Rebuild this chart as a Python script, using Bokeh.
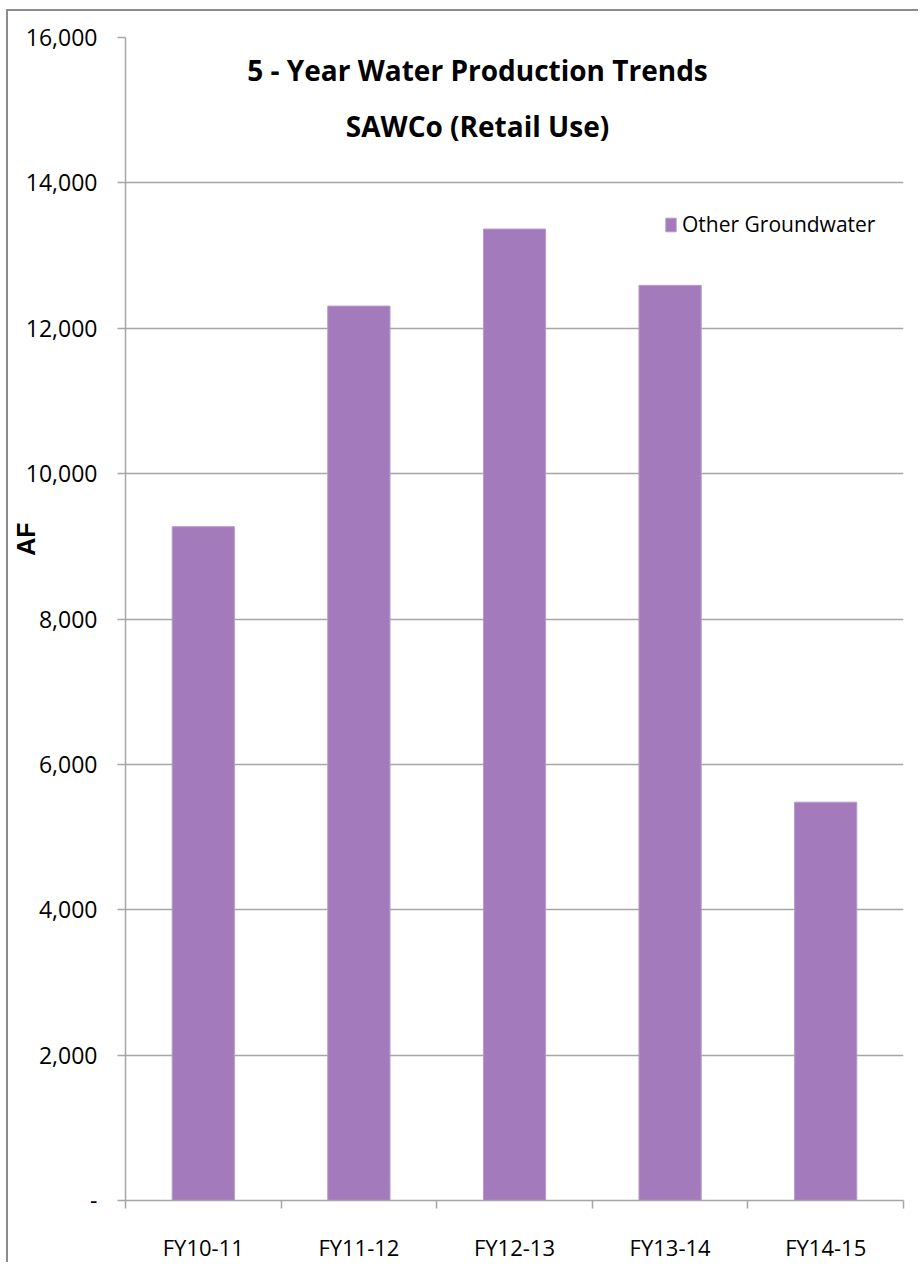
from bokeh.plotting import figure
from bokeh.models import (FixedTicker, NumeralTickFormatter, Legend, LegendItem,
                          Label, ColumnDataSource, Range1d)
from bokeh.embed import file_html
from bokeh.resources import INLINE

categories = ["FY10-11", "FY11-12", "FY12-13", "FY13-14", "FY14-15"]
other_groundwater = [9270, 12305, 13365, 12590, 5480]
y_ticks = [0, 2000, 4000, 6000, 8000, 10000, 12000, 14000, 16000]
title_lines = ["5 - Year Water Production Trends", "SAWCo (Retail Use)"]
series_name = "Other Groundwater"
y_label = "AF"

FONT = "Open Sans"
GRID = "#a6a6a6"
BAR = "#a37abb"

xs = [i + 0.5 for i in range(len(categories))]
src = ColumnDataSource(dict(x=xs, top=other_groundwater, cat=categories))

p = figure(width=912, height=1253, output_backend="svg", toolbar_location=None,
           x_range=Range1d(0, len(categories)), y_range=Range1d(0, 16000),
           min_border_left=117, min_border_right=17, min_border_top=26,
           min_border_bottom=60)
p.styles = {"border-left": "2px solid #8c8c8c", "border-top": "2px solid #8c8c8c",
            "margin-left": "6px", "margin-top": "9px"}
p.outline_line_color = None
p.background_fill_color = "white"
p.border_fill_color = "white"

r = p.vbar(x="x", top="top", width=0.4, bottom=0, source=src,
           fill_color=BAR, line_color="#b99bcc", line_width=1)

# x axis: labels at centers, tick marks at category boundaries
p.xaxis.ticker = FixedTicker(ticks=xs, minor_ticks=list(range(len(categories) + 1)))
p.xaxis.major_label_overrides = {x: c for x, c in zip(xs, categories)}
p.xaxis.major_tick_line_color = None
p.xaxis.minor_tick_line_color = GRID
p.xaxis.minor_tick_out = 8
p.xaxis.minor_tick_in = 0
p.xaxis.minor_tick_line_width = 1.5
p.xaxis.axis_line_color = GRID
p.xaxis.axis_line_width = 1.5
p.xaxis.major_label_text_font = FONT
p.xaxis.major_label_text_font_size = "22px"
p.xaxis.major_label_text_color = "#000000"
p.xaxis.major_label_standoff = 23

p.yaxis.ticker = FixedTicker(ticks=y_ticks)
p.yaxis.formatter = NumeralTickFormatter(format="0,0")
p.yaxis.major_label_overrides = {0: "-"}
p.yaxis.major_tick_out = 8
p.yaxis.major_tick_in = 0
p.yaxis.minor_tick_line_color = None
p.yaxis.major_tick_line_color = GRID
p.yaxis.major_tick_line_width = 1.5
p.yaxis.axis_line_color = GRID
p.yaxis.axis_line_width = 1.5
p.yaxis.major_label_text_font = FONT
p.yaxis.major_label_text_font_size = "23px"
p.yaxis.major_label_text_color = "#000000"
p.yaxis.major_label_standoff = 20
# the original's axis title sits above the middle of the axis
p.yaxis.axis_label = "\u00a0" * 23 + y_label
p.yaxis.axis_label_text_font = "Liberation Sans"
p.yaxis.axis_label_text_font_style = "bold"
p.yaxis.axis_label_text_font_size = "25px"
p.yaxis.axis_label_text_color = "#000000"
p.yaxis.axis_label_standoff = -17

p.xgrid.grid_line_color = None
p.ygrid.grid_line_color = GRID
p.ygrid.grid_line_width = 1.5

legend = Legend(items=[LegendItem(label=series_name, renderers=[r])],
                location=(539, 962), padding=0, margin=0, spacing=0,
                label_standoff=5, glyph_width=13, glyph_height=17,
                border_line_color=None, background_fill_alpha=0,
                label_text_font=FONT, label_text_font_size="21px",
                label_text_color="#000000")
p.add_layout(legend)

for i, line in enumerate(title_lines):
    p.add_layout(Label(x=352, y=1131 - 56 * i, x_units="screen", y_units="screen",
                       text=line, text_align="center", text_baseline="middle",
                       text_font=FONT, text_font_style="bold",
                       text_font_size="28px", text_color="#000000"))

open("out.html", "w").write(file_html(p, INLINE))
